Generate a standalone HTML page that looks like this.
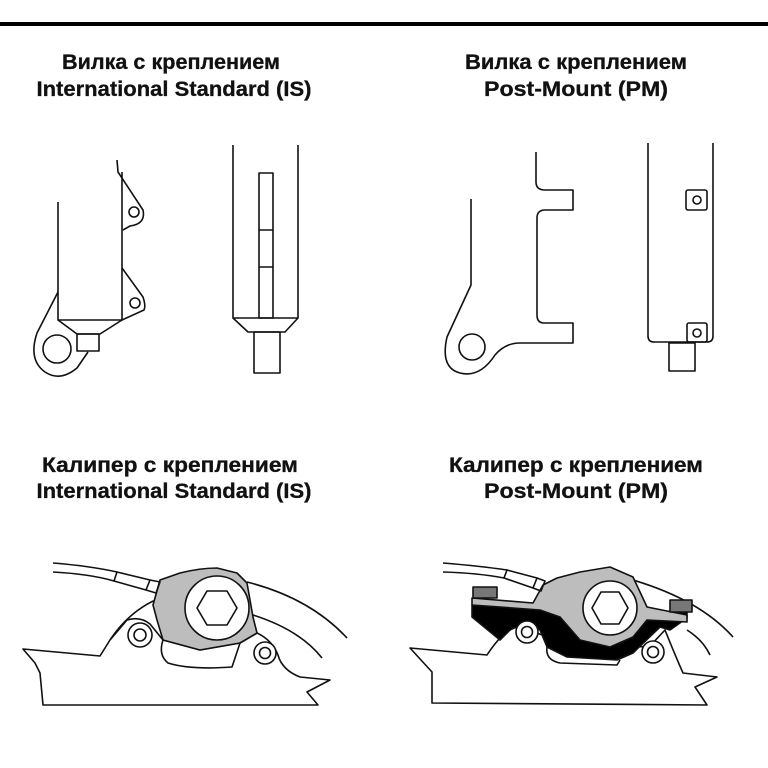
<!DOCTYPE html>
<html><head><meta charset="utf-8"><style>
body{margin:0;background:#fff;}
svg{display:block;}
text{font-family:"Liberation Sans","DejaVu Sans",sans-serif;font-weight:bold;font-size:21px;fill:#111;text-anchor:middle;stroke:#111;stroke-width:0.3;}
</style></head><body>
<svg width="768" height="768" viewBox="0 0 768 768" xmlns="http://www.w3.org/2000/svg">
<rect x="0" y="0" width="768" height="768" fill="#fff"/>
<rect x="0" y="22" width="768" height="4" fill="#000"/>

<text x="171" y="69" textLength="218" lengthAdjust="spacingAndGlyphs">Вилка с креплением</text>
<text x="174" y="96" textLength="275" lengthAdjust="spacingAndGlyphs">International Standard (IS)</text>
<text x="576" y="69" textLength="222" lengthAdjust="spacingAndGlyphs">Вилка с креплением</text>
<text x="576" y="96" textLength="184" lengthAdjust="spacingAndGlyphs">Post-Mount (PM)</text>
<text x="170" y="472" textLength="256" lengthAdjust="spacingAndGlyphs">Калипер с креплением</text>
<text x="174" y="498" textLength="275" lengthAdjust="spacingAndGlyphs">International Standard (IS)</text>
<text x="576" y="472" textLength="254" lengthAdjust="spacingAndGlyphs">Калипер с креплением</text>
<text x="576" y="498" textLength="184" lengthAdjust="spacingAndGlyphs">Post-Mount (PM)</text>

<g fill="none" stroke="#111" stroke-width="1.6" stroke-linejoin="round">
<path d="M58,202 V320 H122 V172"/>
<path d="M117,160 L118,172 L143,210 Q146,224 130,226 L123,230"/>
<circle cx="134" cy="212" r="5"/>
<path d="M122,268 L143,297 Q146,306 144,310 L122,320"/>
<circle cx="135" cy="303" r="5"/>
<path d="M58,320 L77,334 H100 L122,320"/>
<rect x="77" y="334" width="22" height="17"/>
<path d="M58,292 L37,333 Q28,360 45,372 Q60,382 77,368 L88,352"/>
<circle cx="57" cy="349" r="14"/>
<path d="M233,145 V318 H298 V145"/>
<path d="M233,318 L248,332 H285 L298,318"/>
<rect x="254" y="332" width="26" height="41"/>
<rect x="259" y="173" width="14" height="145"/>
<path d="M259,230 H273 M259,267 H273"/>
<path d="M471,199 V285 L447,337 Q440,368 460,373 Q480,378 495,355 Q505,343 520,343 H573 V323 H544 Q537,323 537,315 V218 Q537,210 545,210 H573 V190 H545 Q536,190 536,182 V152"/>
<circle cx="472" cy="347" r="13"/>
<path d="M648,143 V336 Q648,342 654,342 H707 Q713,342 713,336 V143"/>
<rect x="686" y="190" width="21" height="20" rx="2"/>
<circle cx="697" cy="200" r="4"/>
<rect x="687" y="323" width="20" height="19" rx="2"/>
<circle cx="697" cy="333" r="4"/>
<rect x="669" y="343" width="26" height="28"/>

<path d="M247,582 Q310,598 347,638"/>
<path d="M253,615 Q300,630 322,658"/>
<path d="M110,640 Q130,610 160,598"/>
<path d="M23,649 L100,656 L110,640 L127,620 Q140,616 150,624 L163,640 L200,650 L240,643 L257,633 Q272,640 278,655 Q282,670 300,677 L330,680 L307,692 L318,705 L43,705 L40,673 L35,663 Z" fill="#fff"/>
<path d="M163,640 Q158,655 168,663 Q190,670 232,667 L240,643"/>
<circle cx="140" cy="635" r="12" fill="#fff"/><circle cx="140" cy="635" r="6"/>
<circle cx="265" cy="653" r="11" fill="#fff"/><circle cx="265" cy="653" r="5.5"/>
<path d="M160,580 L180,573 Q200,568 217,568 L237,573 L247,583 L253,617 L257,633 L240,643 L200,650 L163,640 L157,620 L153,605 Z" fill="#bdbdbd"/>
<circle cx="217" cy="608" r="32" fill="#fff"/>
<polygon points="237,608 227,625 207,625 197,608 207,591 227,591" fill="#fff"/>
<path d="M53,563 Q90,566 117,572 M53,572 Q90,574 114,581"/>
<path d="M117,572 L150,580 L146,590 L114,581 Z" fill="#fff"/>
<path d="M150,580 L160,582 L156,593 L146,590"/>

<path d="M633,580 Q700,600 733,637"/>
<path d="M687,630 Q703,640 710,655"/>
<path d="M410,648 L487,655 Q500,635 515,625 L545,636 L600,650 L650,646 L665,630 Q675,655 683,673 L717,677 L695,687 L707,705 L432,703 L432,672 Z" fill="#fff"/>
<path d="M472,605 L472,617 L500,640 L510,630 Q525,622 540,630 L547,647 L567,657 L617,660 L633,653 L660,627 L670,630 L687,618 L687,612 Z" fill="#000"/>
<path d="M547,647 Q545,660 560,663 L617,665 L620,660"/>
<circle cx="527" cy="632" r="11" fill="#fff"/><circle cx="527" cy="632" r="5.5"/>
<circle cx="653" cy="652" r="11" fill="#fff"/><circle cx="653" cy="652" r="5.5"/>
<path d="M557,578 L580,572 L610,567 L633,577 L647,607 L687,615 L687,622 L647,620 L633,637 L610,647 L580,640 L560,617 L540,610 L472,605 L472,598 L533,603 L543,585 Z" fill="#bdbdbd"/>
<circle cx="610" cy="608" r="27" fill="#fff"/>
<polygon points="628,608 619,624 601,624 592,608 601,592 619,592" fill="#fff"/>
<rect x="473" y="587" width="24" height="11" fill="#777"/>
<rect x="670" y="600" width="22" height="12" fill="#777"/>
<path d="M443,563 Q480,566 507,570 M443,572 Q478,573 504,578"/>
<path d="M507,570 L537,578 L533,588 L504,578 Z" fill="#fff"/>
<path d="M537,578 L545,581 L541,591 L533,588"/>
</g>
</svg>
</body></html>
